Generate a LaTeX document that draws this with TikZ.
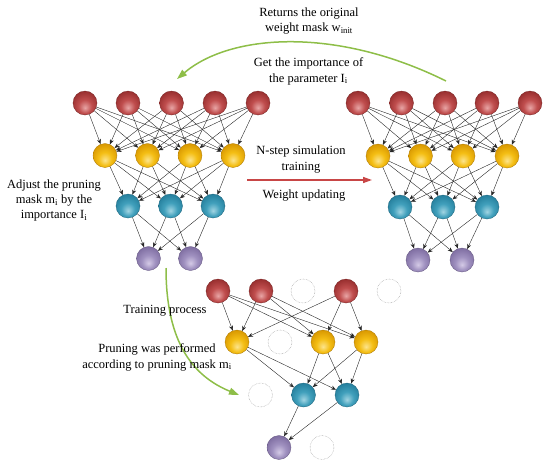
\documentclass[tikz,border=0pt]{standalone}
\usepackage{fontspec}
\setmainfont{Liberation Serif}
\usetikzlibrary{arrows.meta}
\definecolor{rL}{RGB}{232,165,165}\definecolor{rB}{RGB}{192,78,78}\definecolor{rD}{RGB}{150,45,45}
\definecolor{yL}{RGB}{252,228,140}\definecolor{yB}{RGB}{244,190,20}\definecolor{yD}{RGB}{215,150,0}
\definecolor{tL}{RGB}{160,212,226}\definecolor{tB}{RGB}{65,160,188}\definecolor{tD}{RGB}{35,125,155}
\definecolor{pL}{RGB}{212,202,230}\definecolor{pB}{RGB}{160,145,192}\definecolor{pD}{RGB}{125,108,160}
\definecolor{arrgreen}{RGB}{142,190,72}
\definecolor{arrred}{RGB}{200,70,70}
\pgfdeclareradialshading{redball}{\pgfpoint{0bp}{-10bp}}{color(0bp)=(rL); color(14bp)=(rB); color(30bp)=(rD); color(50bp)=(rD)}
\pgfdeclareradialshading{yelball}{\pgfpoint{0bp}{-10bp}}{color(0bp)=(yL); color(14bp)=(yB); color(30bp)=(yD); color(50bp)=(yD)}
\pgfdeclareradialshading{tealball}{\pgfpoint{0bp}{-10bp}}{color(0bp)=(tL); color(14bp)=(tB); color(30bp)=(tD); color(50bp)=(tD)}
\pgfdeclareradialshading{purball}{\pgfpoint{0bp}{-10bp}}{color(0bp)=(pL); color(14bp)=(pB); color(30bp)=(pD); color(50bp)=(pD)}
\tikzset{
  ball/.style={circle, minimum size=24pt, inner sep=0pt, line width=0.3pt},
  rednode/.style={ball, shading=redball, draw=rD!80!black},
  yelnode/.style={ball, shading=yelball, draw=yD!80!black},
  tealnode/.style={ball, shading=tealball, draw=tD!80!black},
  purnode/.style={ball, shading=purball, draw=pD!80!black},
  ghost/.style={circle, minimum size=24pt, inner sep=0pt, draw=gray!75, densely dotted, line width=0.5pt},
  edge/.style={line width=0.4pt, black!85, -{Stealth[length=5pt,width=4pt]}},
  txt/.style={align=center, font=\fontsize{12.5}{15.2}\selectfont, inner sep=0pt},
  greenarrow/.style={arrgreen, line width=1.5pt, -{Triangle[length=10pt,width=7pt]}},
  redarrow/.style={arrred, line width=1.4pt, -{Triangle[length=9pt,width=6pt]}}
}
\begin{document}
\begin{tikzpicture}[x=1pt,y=-1pt]
\useasboundingbox (0,0) rectangle (550,469);
% left network
\foreach \x [count=\i] in {85,128,171.5,215,258} \node[rednode] (Lr\i) at (\x,103) {};
\foreach \x [count=\i] in {105,147.5,190,233} \node[yelnode] (Ly\i) at (\x,155.5) {};
\foreach \x [count=\i] in {128,170.5,213} \node[tealnode] (Lt\i) at (\x,206) {};
\foreach \x [count=\i] in {148.5,190.5} \node[purnode] (Lp\i) at (\x,258.5) {};
% right network
\foreach \x [count=\i] in {358,401.5,445,487,530} \node[rednode] (Rr\i) at (\x,103) {};
\foreach \x [count=\i] in {378,420.5,463,507} \node[yelnode] (Ry\i) at (\x,156) {};
\foreach \x [count=\i] in {400,443,487} \node[tealnode] (Rt\i) at (\x,207) {};
\foreach \x [count=\i] in {418,462} \node[purnode] (Rp\i) at (\x,260) {};
% edges of full networks
\foreach \n in {L,R}{
  \foreach \i in {1,...,5}{\foreach \j in {1,...,4}{\draw[edge] (\n r\i) -- (\n y\j);}}
  \foreach \i in {1,...,4}{\foreach \j in {1,...,3}{\draw[edge] (\n y\i) -- (\n t\j);}}
  \foreach \i in {1,...,3}{\foreach \j in {1,2}{\draw[edge] (\n t\i) -- (\n p\j);}}
}
% pruned network
\node[rednode] (Br1) at (218,291) {};
\node[rednode] (Br2) at (261,291) {};
\node[ghost]   (Br3) at (303,291) {};
\node[rednode] (Br4) at (346,291) {};
\node[ghost]   (Br5) at (389,291) {};
\node[yelnode] (By1) at (237,342) {};
\node[ghost]   (By2) at (280,342) {};
\node[yelnode] (By3) at (323,342) {};
\node[yelnode] (By4) at (366,342) {};
\node[ghost]    (Bt1) at (260.5,395) {};
\node[tealnode] (Bt2) at (303.5,395) {};
\node[tealnode] (Bt3) at (347,395) {};
\node[purnode] (Bp1) at (279,447.5) {};
\node[ghost]   (Bp2) at (322,447.5) {};
\foreach \i in {1,2,4}{\foreach \j in {1,3,4}{\draw[edge] (Br\i) -- (By\j);}}
\foreach \i in {1,3,4}{\foreach \j in {2,3}{\draw[edge] (By\i) -- (Bt\j);}}
\foreach \i in {2,3}{\draw[edge] (Bt\i) -- (Bp1);}
% big arrows
\coordinate (g1s) at (446,81);
\coordinate (g1e) at (177,79);
\draw[greenarrow] (g1s) .. controls (335,26) and (230,34) .. (g1e);
\coordinate (g2s) at (166,268);
\coordinate (g2e) at (239,395);
\draw[greenarrow] (g2s) .. controls (166,345) and (195,377) .. (g2e);
\coordinate (r1s) at (247,180);
\coordinate (r1e) at (372,180);
\draw[redarrow] (r1s) -- (r1e);
% texts
\node[txt] (t1) at (309,21) {Returns the original\\weight mask w\textsubscript{init}};
\node[txt] (t2) at (308.5,71.5) {Get the importance of\\the parameter I\textsubscript{i}};
\node[txt] (t3) at (301,159.5) {N-step simulation\\training};
\node[txt] (t4) at (304,196) {Weight updating};
\node[txt] (t5) at (54,200.5) {Adjust the pruning\\mask m\textsubscript{i} by the\\importance I\textsubscript{i}};
\node[txt] (t6) at (165,311) {Training process};
\node[txt] (t7) at (157,357.5) {Pruning was performed\\according to pruning mask m\textsubscript{i}};
\end{tikzpicture}
\end{document}
